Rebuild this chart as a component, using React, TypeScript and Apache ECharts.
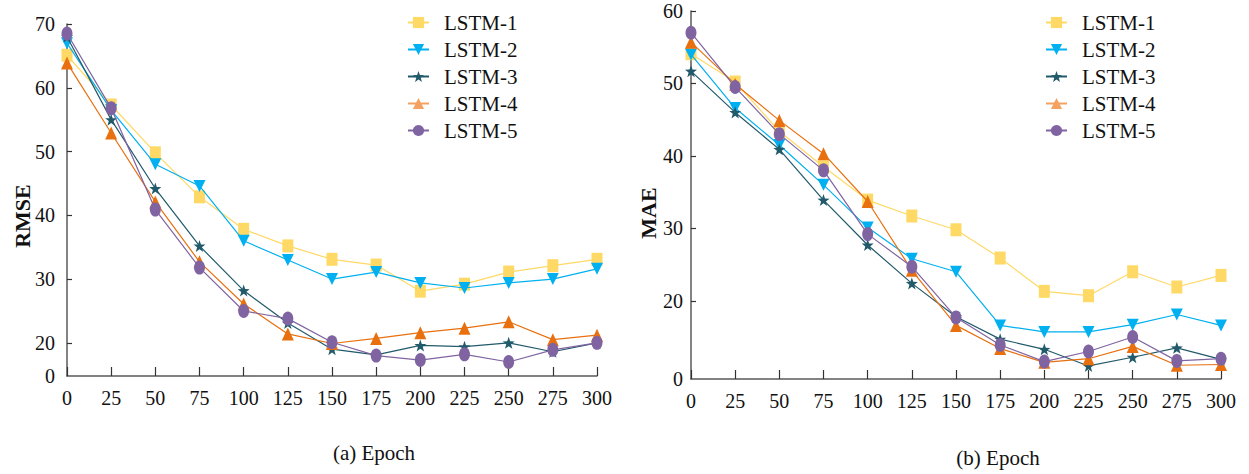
import React, { useEffect, useRef } from "react";
import * as echarts from "echarts";

const epochs = [0, 25, 50, 75, 100, 125, 150, 175, 200, 225, 250, 275, 300];
const seriesNames = ["LSTM-1", "LSTM-2", "LSTM-3", "LSTM-4", "LSTM-5"];

// RMSE (left panel; broken axis, bottom labelled "0")
const rmse1 = [65.1, 57.3, 49.8, 42.9, 37.8, 35.2, 33.1, 32.2, 28.1, 29.2, 31.1, 32.1, 33.1];
const rmse2 = [67.0, 56.5, 48.0, 44.6, 36.0, 33.0, 30.0, 31.1, 29.4, 28.6, 29.4, 30.0, 31.6];
const rmse3 = [68.0, 55.0, 44.2, 35.2, 28.2, 23.1, 19.0, 18.1, 19.6, 19.4, 20.0, 18.6, 20.0];
const rmse4 = [63.9, 52.9, 42.1, 32.7, 26.1, 21.4, 19.9, 20.7, 21.6, 22.3, 23.3, 20.5, 21.2];
const rmse5 = [68.5, 56.8, 40.9, 31.8, 25.0, 23.8, 20.1, 18.0, 17.3, 18.2, 17.0, 18.9, 20.0];

// MAE (right panel; broken axis, bottom labelled "0")
const mae1 = [54.1, 50.2, 43.4, 38.5, 33.9, 31.7, 29.8, 25.9, 21.3, 20.7, 24.0, 21.9, 23.5];
const mae2 = [54.0, 46.6, 41.5, 36.0, 30.1, 25.8, 24.0, 16.6, 15.7, 15.7, 16.7, 18.1, 16.6];
const mae3 = [51.7, 46.0, 40.9, 33.9, 27.7, 22.4, 17.8, 14.7, 13.3, 11.0, 12.2, 13.5, 11.9];
const mae4 = [55.7, 49.9, 44.9, 40.3, 33.7, 24.2, 16.6, 13.4, 11.5, 12.0, 13.7, 11.1, 11.2];
const mae5 = [57.0, 49.5, 43.0, 38.0, 29.2, 24.7, 17.7, 13.9, 11.6, 13.0, 15.0, 11.7, 12.0];

const rmseTicks = [20, 30, 40, 50, 60, 70];
const maeTicks = [20, 30, 40, 50, 60];
const rmseMin = 14.8;
const rmseMax = 70;
const maeMin = 9.2;
const maeMax = 60;

const FONT = "Liberation Serif";
const colors = ["#FFD966", "#00B0F0", "#215A6A", "#E8700F", "#8064A2"];
const legendColors = ["#FFD966", "#00B0F0", "#215A6A", "#F4A261", "#8064A2"];
const STAR =
  "path://M0,-10 L2.35,-3.24 L9.51,-3.09 L3.8,1.24 L5.88,8.09 L0,4 L-5.88,8.09 L-3.8,1.24 L-9.51,-3.09 L-2.35,-3.24 Z";
const symbols: any[] = ["rect", "triangle", STAR, "triangle", "circle"];
const symbolRotates = [0, 180, 0, 0, 0];
const symbolSizes: any[] = [[11, 13], [12, 12], [12, 12], [12, 13], [11, 14]];

export default function App() {
  const ref = useRef<HTMLDivElement>(null);
  useEffect(() => {
    if (!ref.current) return;
    const chart = echarts.init(ref.current, null, { renderer: "svg" });
    const rmse = [rmse1, rmse2, rmse3, rmse4, rmse5];
    const mae = [mae1, mae2, mae3, mae4, mae5];
    const axisLine = { show: true, lineStyle: { color: "#5a5a5a", width: 1.5 } };
    const labelStyle = { fontFamily: FONT, fontSize: 20, color: "#111" };

    const makeSeries = (data: number[][], axisIdx: number) =>
      data.map((vals, i) => ({
        name: seriesNames[i],
        type: "line",
        xAxisIndex: axisIdx,
        yAxisIndex: axisIdx,
        data: epochs.map((e, j) => [e, vals[j]]),
        symbol: symbols[i],
        symbolSize: symbolSizes[i],
        symbolRotate: symbolRotates[i],
        showAllSymbol: true,
        lineStyle: { color: colors[i], width: 1.2 },
        itemStyle: { color: colors[i] },
        z: 2 + i,
      }));

    const makeLegend = (left: number) => ({
      orient: "vertical",
      left,
      top: 12,
      padding: 0,
      itemWidth: 21,
      itemHeight: 14,
      itemGap: 6,
      textStyle: { fontFamily: FONT, fontSize: 21, color: "#111", padding: [0, 0, 0, 10] },
      lineStyle: { width: 2 },
      data: seriesNames.map((n, i) => ({
        name: n,
        itemStyle: { color: legendColors[i] },
        lineStyle: { color: legendColors[i], width: 2 },
      })),
    });

    const xAxisDef = (gridIndex: number) => ({
      type: "value",
      gridIndex,
      min: 0,
      max: 300,
      interval: 25,
      axisLine,
      axisTick: { show: true, inside: true, length: 9, lineStyle: { color: "#333", width: 1.2 } },
      axisLabel: { ...labelStyle, margin: 12 },
      splitLine: { show: false },
    });

    const yAxisDef = (gridIndex: number, min: number, max: number, ticks: number[], margin: number) => ({
      type: "value",
      gridIndex,
      min,
      max,
      axisLine,
      axisTick: {
        show: true,
        inside: true,
        length: 5,
        customValues: ticks,
        lineStyle: { color: "#333", width: 1.2 },
      },
      axisLabel: {
        ...labelStyle,
        margin,
        customValues: [min, ...ticks],
        formatter: (v: number) => (v < 19 ? "0" : String(Math.round(v))),
      },
      splitLine: { show: false },
    });

    const textEl = (text: string, x: number, y: number, size: number, bold: boolean, rot: number) => ({
      type: "text",
      x,
      y,
      rotation: rot,
      style: {
        text,
        fontFamily: FONT,
        fontSize: size,
        fontWeight: bold ? "bold" : "normal",
        fill: "#111",
        textAlign: "center",
        textVerticalAlign: "middle",
      },
    });

    chart.setOption({
      animation: false,
      backgroundColor: "#ffffff",
      grid: [
        { left: 67, top: 24, width: 530, height: 352, outerBoundsMode: "none" },
        { left: 691, top: 11, width: 530, height: 368, outerBoundsMode: "none" },
      ],
      xAxis: [xAxisDef(0), xAxisDef(1)],
      yAxis: [
        yAxisDef(0, rmseMin, rmseMax, rmseTicks, 12),
        yAxisDef(1, maeMin, maeMax, maeTicks, 8),
      ],
      legend: [makeLegend(407), makeLegend(1045)],
      series: [...makeSeries(rmse, 0), ...makeSeries(mae, 1)],
      graphic: [
        textEl("RMSE", 22, 216, 22, true, Math.PI / 2),
        textEl("MAE", 648, 213, 22, true, Math.PI / 2),
        textEl("(a) Epoch", 374, 453, 21, false, 0),
        textEl("(b) Epoch", 998, 458, 21, false, 0),
      ],
    });
    return () => chart.dispose();
  }, []);
  return (
    <div
      ref={ref}
      style={{ position: "fixed", left: 0, top: 0, width: 1249, height: 474, background: "#fff" }}
    />
  );
}
